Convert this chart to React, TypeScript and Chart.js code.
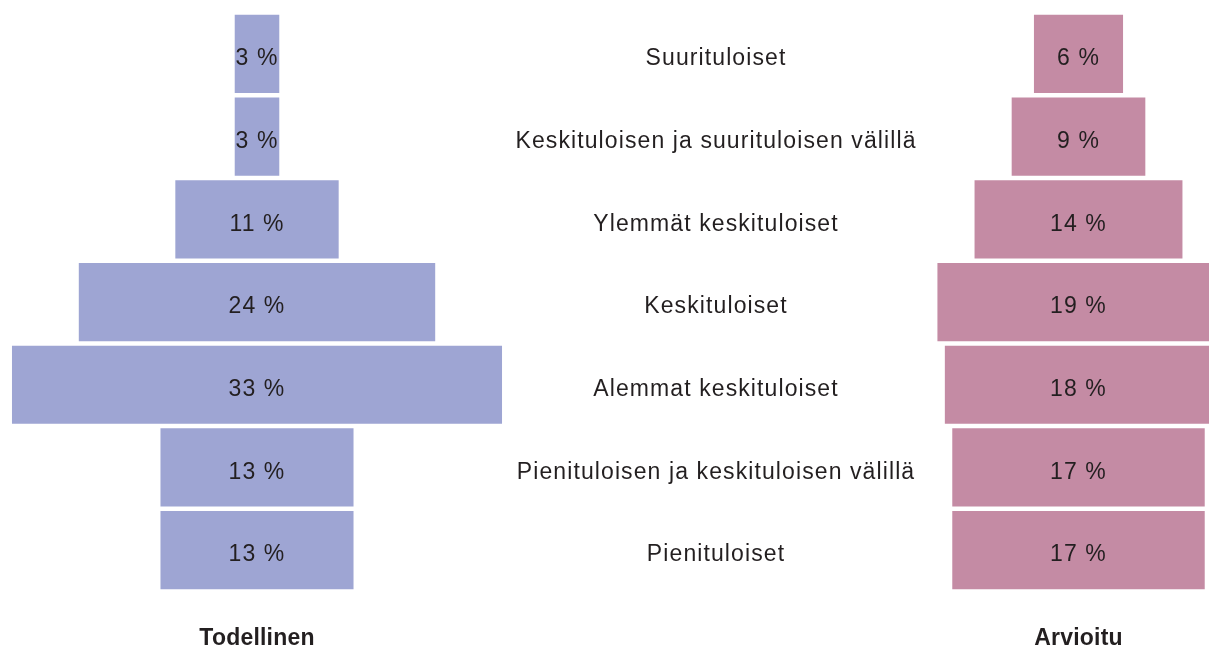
import React, { useEffect, useRef } from "react";
import { Chart, registerables } from "chart.js";

Chart.register(...registerables);

const categories = [
  "Suurituloiset",
  "Keskituloisen ja suurituloisen välillä",
  "Ylemmät keskituloiset",
  "Keskituloiset",
  "Alemmat keskituloiset",
  "Pienituloisen ja keskituloisen välillä",
  "Pienituloiset",
];
const actual = [3, 3, 11, 24, 33, 13, 13];
const estimated = [6, 9, 14, 19, 18, 17, 17];
const seriesNames = ["Todellinen", "Arvioitu"];

const W = 1209;
const H = 648;
const PX_PER_UNIT = 14.85;
const X_MAX = W / PX_PER_UNIT;
const LEFT_CENTER = 257 / PX_PER_UNIT;
const RIGHT_CENTER = 1078.5 / PX_PER_UNIT;
const LABEL_CENTER = 716 / PX_PER_UNIT;
const FONT = "'Liberation Sans', Arial, sans-serif";
const TEXT = "#231f20";

const floating = (vals: number[], c: number) => vals.map((v) => [c - v / 2, c + v / 2]);

export default function App() {
  const ref = useRef<HTMLCanvasElement>(null);
  useEffect(() => {
    if (!ref.current) return;
    const textPlugin = {
      id: "texts",
      afterDatasetsDraw(chart: any) {
        const ctx = chart.ctx;
        const xs = chart.scales.x;
        const ys = chart.scales.y;
        ctx.save();
        ctx.fillStyle = TEXT;
        ctx.textAlign = "center";
        ctx.textBaseline = "middle";
        ctx.font = `23px ${FONT}`;
        ctx.letterSpacing = "1.1px";
        categories.forEach((c, i) => {
          const y = ys.getPixelForValue(i) + 5;
          ctx.fillText(c, xs.getPixelForValue(LABEL_CENTER), y);
          ctx.fillText(`${actual[i]} %`, xs.getPixelForValue(LEFT_CENTER), y);
          ctx.fillText(`${estimated[i]} %`, xs.getPixelForValue(RIGHT_CENTER), y);
        });
        ctx.font = `bold 23px ${FONT}`;
        ctx.letterSpacing = "0.2px";
        ctx.fillText(seriesNames[0], xs.getPixelForValue(LEFT_CENTER), 639);
        ctx.fillText(seriesNames[1], xs.getPixelForValue(RIGHT_CENTER), 639);
        ctx.restore();
      },
    };
    const chart = new Chart(ref.current, {
      type: "bar",
      data: {
        labels: categories,
        datasets: [
          {
            label: seriesNames[0],
            data: floating(actual, LEFT_CENTER) as any,
            backgroundColor: "#9ea5d3",
            grouped: false,
            categoryPercentage: 1,
            barPercentage: 0.945,
          } as any,
          {
            label: seriesNames[1],
            data: floating(estimated, RIGHT_CENTER) as any,
            backgroundColor: "#c48ba4",
            grouped: false,
            categoryPercentage: 1,
            barPercentage: 0.945,
          } as any,
        ],
      },
      options: {
        indexAxis: "y",
        animation: false,
        responsive: false,
        maintainAspectRatio: false,
        layout: { padding: { top: 12.6, bottom: 56.5, left: 0, right: 0 } },
        scales: {
          x: { type: "linear", min: 0, max: X_MAX, display: false },
          y: { type: "category", display: false, offset: true },
        },
        plugins: { legend: { display: false }, tooltip: { enabled: false } },
      },
      plugins: [textPlugin],
    });
    return () => chart.destroy();
  }, []);
  return (
    <div style={{ position: "fixed", left: 0, top: 0, width: W, height: H, background: "#fff" }}>
      <canvas ref={ref} width={W} height={H} style={{ width: W, height: H, display: "block" }} />
    </div>
  );
}
